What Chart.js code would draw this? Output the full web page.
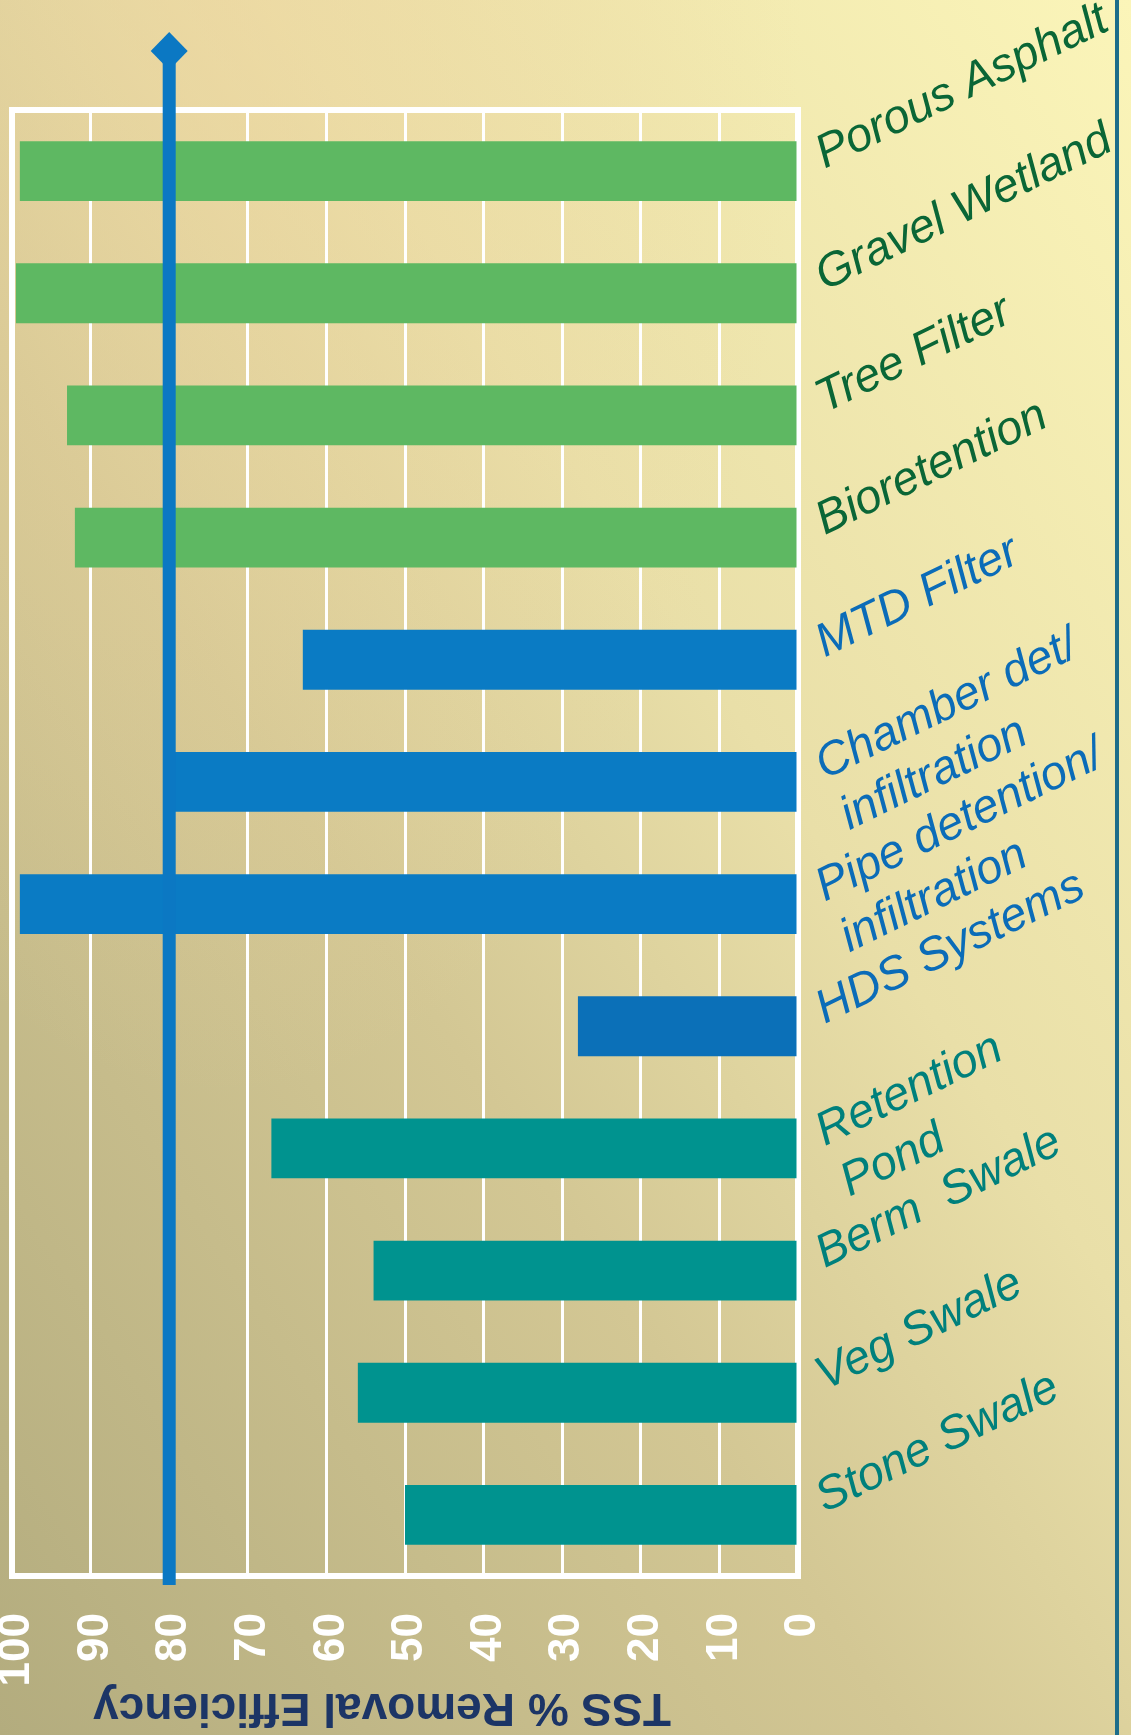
<!DOCTYPE html>
<html>
<head>
<meta charset="utf-8">
<title>TSS % Removal Efficiency</title>
<script src="https://cdn.jsdelivr.net/npm/chart.js@4.4.1/dist/chart.umd.min.js"></script>
<style>
  html, body { margin: 0; padding: 0; }
  body {
    width: 1131px;
    height: 1735px;
    overflow: hidden;
    background:
      radial-gradient(ellipse at 20% 0%, rgba(240, 214, 160, 0.55), rgba(240, 214, 160, 0) 45%),
      linear-gradient(to top right, #b3ac7e 0%, #d3c794 40%, #e9dfa8 62%, #fbf5b9 100%);
  }
  canvas { display: block; }
</style>
</head>
<body>
<canvas id="tssChart" width="1131" height="1735"></canvas>
<script>
// practices, top to bottom. Two-line names get an empty first line so
// that their first printed line sits level with the bar, like the others.
const practices = [
  'Porous Asphalt',
  'Gravel Wetland',
  'Tree Filter',
  'Bioretention',
  'MTD Filter',
  ['', 'Chamber det/', 'infiltration'],
  ['', 'Pipe detention/', 'infiltration'],
  'HDS Systems',
  ['', 'Retention', 'Pond'],
  'Berm  Swale',
  'Veg Swale',
  'Stone Swale'
];

// TSS removal, percent
const tssRemoval = [99, 99.5, 93, 92, 63, 80, 99, 28, 67, 54, 56, 50];

// LID practices / manufactured devices / conventional practices
const barColors = [
  '#5eb862', '#5eb862', '#5eb862', '#5eb862',
  '#0a7bc4', '#0a7bc4', '#0a7bc4', '#0b70b8',
  '#00938f', '#00938f', '#00938f', '#00938f'
];
const labelColors = [
  '#0a6636', '#0a6636', '#0a6636', '#0a6636',
  '#0b6cb8', '#0b6cb8', '#0b6cb8', '#0b6cb8',
  '#00807c', '#00807c', '#00807c', '#00807c'
];

const targetRemoval = 80;
const axisTitleText = 'TSS % Removal Efficiency';

const frame = {
  id: 'frame',
  beforeDraw(chart) {
    const { ctx } = chart;
    ctx.save();
    ctx.fillStyle = '#1d6d8a';
    ctx.fillRect(chart.width - 16, 0, 4, chart.height);
    ctx.restore();
  },
  beforeDatasetsDraw(chart) {
    const { ctx, chartArea: a } = chart;
    ctx.save();
    ctx.strokeStyle = '#ffffff';
    ctx.lineWidth = 6;
    ctx.strokeRect(a.left, a.top, a.right - a.left, a.bottom - a.top);
    ctx.restore();
  }
};

// 80% target marker with the diamond head
const targetLine = {
  id: 'targetLine',
  afterDatasetsDraw(chart) {
    const { ctx, chartArea: a, scales } = chart;
    const x = scales.x.getPixelForValue(targetRemoval);
    const cy = a.top - 59;
    ctx.save();
    ctx.fillStyle = '#0b78c3';
    ctx.fillRect(x - 6.5, cy, 13, a.bottom + 9 - cy);
    ctx.beginPath();
    ctx.moveTo(x, cy - 19);
    ctx.lineTo(x + 18.5, cy);
    ctx.lineTo(x, cy + 19);
    ctx.lineTo(x - 18.5, cy);
    ctx.closePath();
    ctx.fill();
    ctx.restore();
  }
};

// axis title is printed upside down under the ticks
const axisTitle = {
  id: 'axisTitle',
  afterDraw(chart) {
    const { ctx, chartArea: a } = chart;
    ctx.save();
    ctx.translate((a.left + a.right) / 2 - 23, a.bottom + 131);
    ctx.rotate(Math.PI);
    ctx.font = 'bold 46px "Liberation Sans", Arial, sans-serif';
    ctx.fillStyle = '#1c3566';
    ctx.textAlign = 'center';
    ctx.textBaseline = 'middle';
    ctx.fillText(axisTitleText, 0, 0);
    ctx.restore();
  }
};

new Chart(document.getElementById('tssChart'), {
  type: 'bar',
  data: {
    labels: practices,
    datasets: [{
      data: tssRemoval,
      backgroundColor: barColors,
      borderWidth: 0,
      categoryPercentage: 1,
      barPercentage: 0.49
    }]
  },
  options: {
    indexAxis: 'y',
    responsive: false,
    animation: false,
    layout: { padding: { left: 12, top: 110, right: 0, bottom: 0 } },
    plugins: {
      legend: { display: false },
      tooltip: { enabled: false }
    },
    scales: {
      x: {
        reverse: true,
        min: 0,
        max: 100,
        grid: { color: '#ffffff', lineWidth: 3, drawTicks: false },
        border: { display: false },
        ticks: {
          stepSize: 10,
          autoSkip: false,
          minRotation: 90,
          maxRotation: 90,
          padding: 37,
          labelOffset: 5,
          color: '#ffffff',
          font: { family: '"Liberation Sans", Arial, sans-serif', size: 44, weight: 'bold' }
        },
        afterFit(scale) {
          scale.height = 159;
          scale.paddingLeft = 0;
          scale.paddingRight = 0;
        }
      },
      y: {
        position: 'right',
        grid: { display: false, drawTicks: false },
        border: { display: false },
        ticks: {
          autoSkip: false,
          minRotation: 26,
          maxRotation: 26,
          padding: 21,
          labelOffset: -14,
          color: (c) => labelColors[c.index],
          font: { family: '"Liberation Sans", Arial, sans-serif', size: 47, style: 'italic' }
        },
        afterFit(scale) { scale.width = 333; }
      }
    }
  },
  plugins: [frame, targetLine, axisTitle]
});
</script>
</body>
</html>
